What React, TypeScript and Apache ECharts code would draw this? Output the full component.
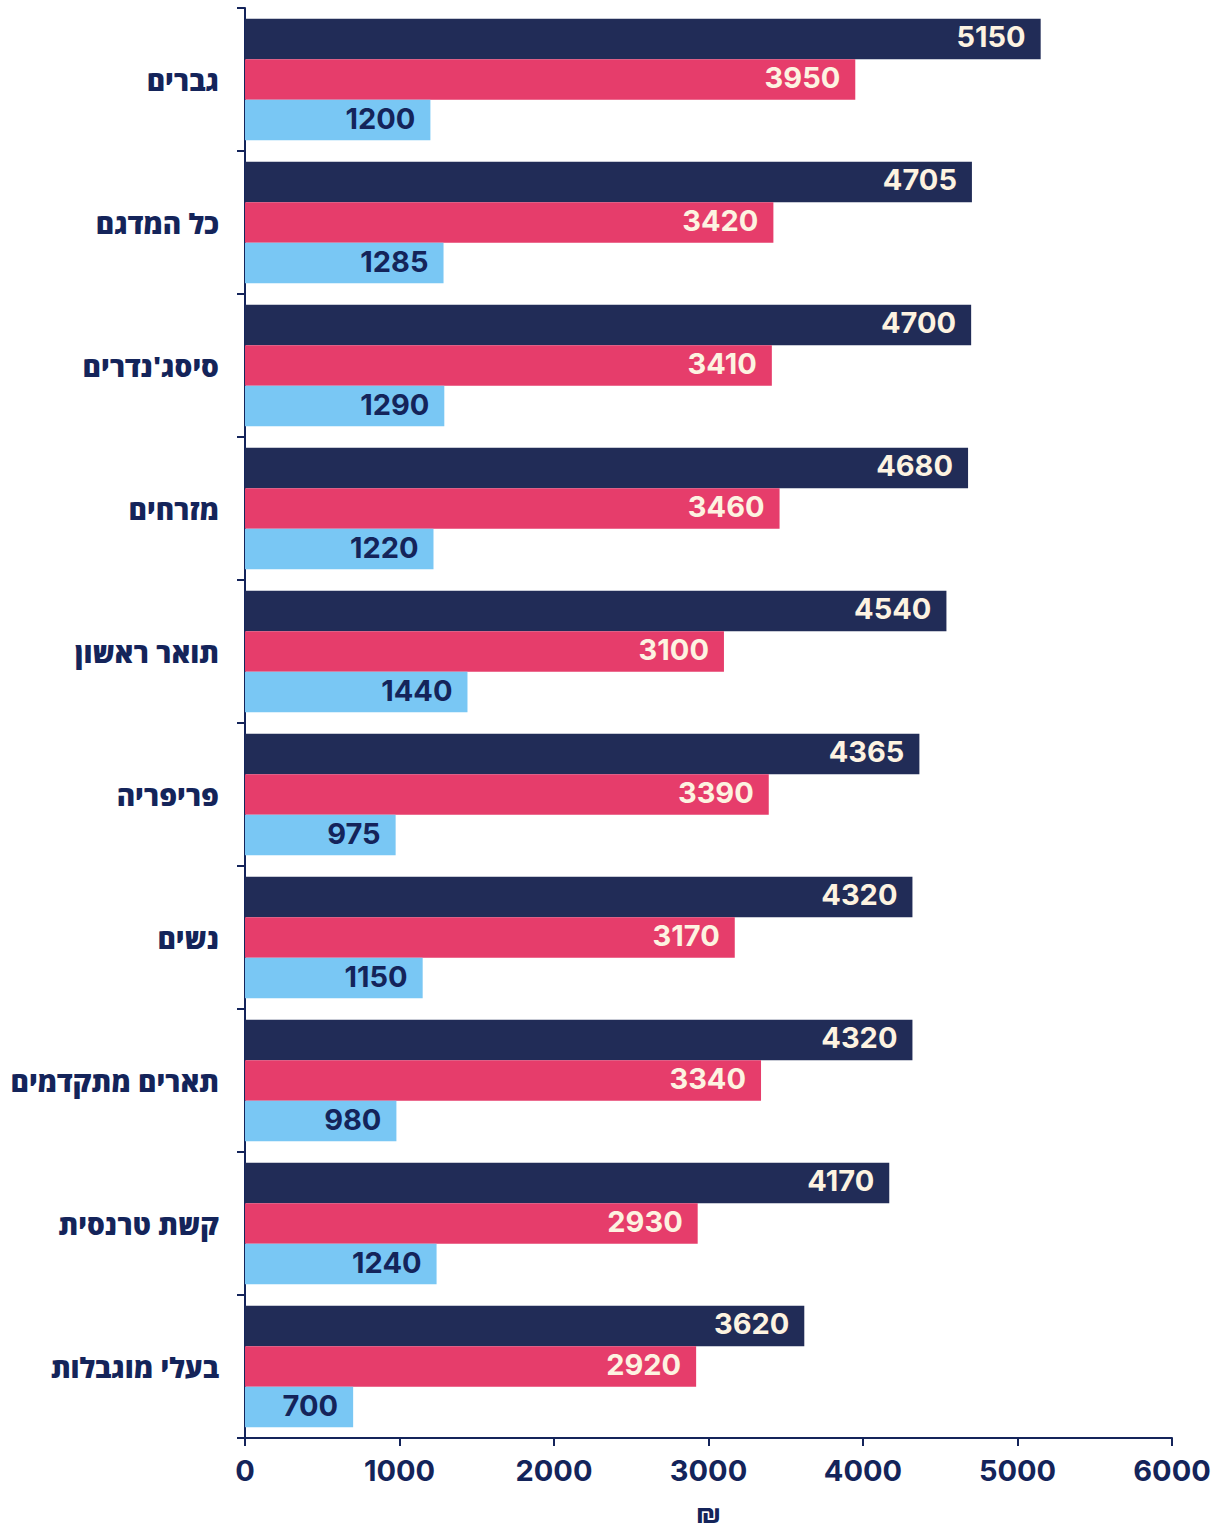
import React, { useEffect, useRef } from "react";
import * as echarts from "echarts";

const categories = [
  "גברים",
  "כל המדגם",
  "סיסג'נדרים",
  "מזרחים",
  "תואר ראשון",
  "פריפריה",
  "נשים",
  "תארים מתקדמים",
  "קשת טרנסית",
  "בעלי מוגבלות",
];
const darkValues = [5150, 4705, 4700, 4680, 4540, 4365, 4320, 4320, 4170, 3620];
const pinkValues = [3950, 3420, 3410, 3460, 3100, 3390, 3170, 3340, 2930, 2920];
const blueValues = [1200, 1285, 1290, 1220, 1440, 975, 1150, 980, 1240, 700];
const xTicks = { min: 0, max: 6000, interval: 1000 };
const unitName = "₪";

const NAVY = "#14245A";
const CREAM = "#FDF3E1";
const NUM_FONT = "Inter, 'DejaVu Sans', sans-serif";
const HEB_FONT = "'Open Sans', 'Liberation Sans', 'DejaVu Sans', sans-serif";

export default function App() {
  const ref = useRef<HTMLDivElement>(null);
  useEffect(() => {
    if (!ref.current) return;
    const chart = echarts.init(ref.current, undefined, { renderer: "svg" });
    const mkSeries = (name: string, data: number[], color: string, labelColor: string) => ({
      name,
      type: "bar",
      data,
      barGap: "0%",
      barCategoryGap: "15%",
      itemStyle: { color },
      label: {
        show: true,
        position: "insideRight",
        distance: 15,
        offset: [0, -2],
        color: labelColor,
        fontFamily: NUM_FONT,
        fontWeight: "bold",
        fontSize: 29,
      },
    });
    chart.setOption({
      animation: false,
      grid: {
        left: 245,
        right: 50,
        top: 8,
        bottom: 90,
        containLabel: false,
        outerBoundsMode: "none",
      },
      xAxis: {
        type: "value",
        min: xTicks.min,
        max: xTicks.max,
        interval: xTicks.interval,
        name: unitName,
        nameLocation: "middle",
        nameGap: 62,
        nameTextStyle: {
          color: NAVY,
          fontFamily: NUM_FONT,
          fontWeight: "bold",
          fontSize: 27,
          lineHeight: 26,
        },
        splitLine: { show: false },
        axisLine: { show: true, lineStyle: { color: NAVY, width: 2 } },
        axisTick: { show: true, length: 8, lineStyle: { color: NAVY, width: 2 } },
        axisLabel: {
          color: NAVY,
          fontFamily: NUM_FONT,
          fontWeight: "bold",
          fontSize: 29,
          margin: 18,
          formatter: (v: number) => String(v),
        },
      },
      yAxis: {
        type: "category",
        data: categories,
        inverse: true,
        axisLine: { show: true, lineStyle: { color: NAVY, width: 2 } },
        axisTick: { show: true, length: 8, lineStyle: { color: NAVY, width: 2 } },
        axisLabel: {
          color: NAVY,
          fontFamily: HEB_FONT,
          fontWeight: 800,
          fontSize: 28,
          margin: 26,
        },
      },
      series: [
        mkSeries("סדרה 1", darkValues, "#212C57", CREAM),
        mkSeries("סדרה 2", pinkValues, "#E63D6B", CREAM),
        mkSeries("סדרה 3", blueValues, "#79C7F4", NAVY),
      ],
    });
    return () => chart.dispose();
  }, []);
  return (
    <div
      ref={ref}
      style={{ position: "absolute", left: 0, top: 0, width: 1222, height: 1528 }}
    />
  );
}
